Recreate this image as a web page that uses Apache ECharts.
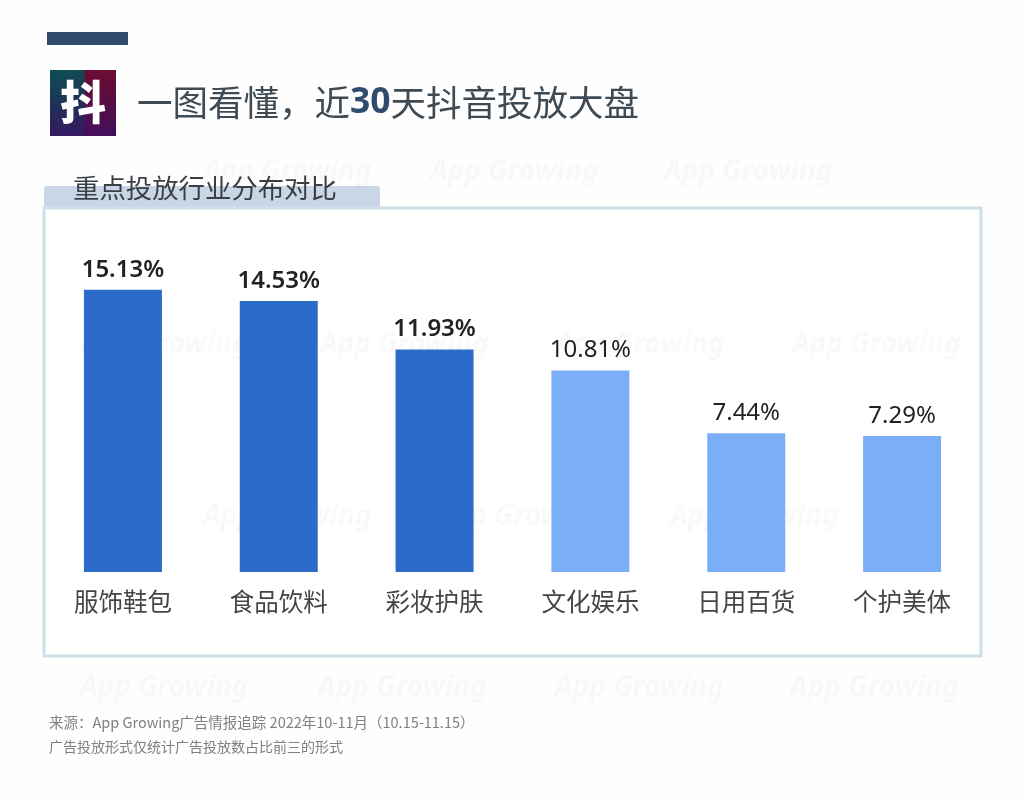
<!DOCTYPE html>
<html><head><meta charset="utf-8">
<style>html,body{margin:0;padding:0;background:#fefefe}#c{width:1024px;height:800px}</style>
<script src="https://cdn.jsdelivr.net/npm/echarts@6/dist/echarts.min.js"></script>
</head><body><div id="c"></div>
<script>
const categories = ['服饰鞋包','食品饮料','彩妆护肤','文化娱乐','日用百货','个护美体'];
const shares = [15.13,14.53,11.93,10.81,7.44,7.29];
const highlightCount = 3;
const titleHead = '一图看懂，近';
const titleNum = '30';
const titleTail = '天抖音投放大盘';
const subTitle = '重点投放行业分布对比';
const notes = ['来源：App Growing广告情报追踪 2022年10-11月（10.15-11.15）','广告投放形式仅统计广告投放数占比前三的形式'];
const watermark = 'App Growing';
const cjk = '"Noto Sans CJK SC","Noto Sans",sans-serif';
const latin = '"Noto Sans","Noto Sans CJK SC",sans-serif';

const wmSpots = [[203,172],[430,172],[664,172],[80,345],[320,345],[556,345],[792,345],[203,517],[436,517],[670,517],[80,688],[318,688],[555,688],[790,688]];
const wm = wmSpots.map(p=>({type:'text',x:p[0],y:p[1],z:1,silent:true,style:{text:watermark,font:'italic bold 28px '+latin,fill:'rgba(40,50,70,0.028)',textVerticalAlign:'middle'}}));

const chart = echarts.init(document.getElementById('c'),null,{renderer:'canvas'});
const G = echarts.graphic.LinearGradient;
chart.setOption({
  animation:false,
  backgroundColor:'#fefefe',
  grid:{left:45,right:44,top:199,height:373},
  xAxis:{type:'category',data:categories,axisLine:{show:false},axisTick:{show:false},
    axisLabel:{fontFamily:cjk,fontSize:24.5,color:'#454545',margin:17,interval:0}},
  yAxis:{type:'value',min:0,max:20,show:false,splitLine:{show:false}},
  series:[{type:'bar',barWidth:78,z:5,
    data:shares.map((v,i)=>({value:v,
      itemStyle:{color:i<highlightCount?'#2d6bca':'#7aaef7'},
      label:{fontWeight:i<highlightCount?600:400}})),
    label:{show:true,position:'top',distance:8,fontFamily:latin,fontSize:24,color:'#222',
      formatter:p=>p.value.toFixed(2)+'%'}}],
  graphic:[
    {type:'rect',z:0,shape:{x:47,y:32,width:81,height:13},style:{fill:'#2f4c6e'}},
    {type:'rect',z:0,shape:{x:50,y:70,width:66,height:66},style:{fill:new G(0,0,1,0,[{offset:0,color:'#0d4f52'},{offset:0.5,color:'#124a52'},{offset:0.55,color:'#6e0d32'},{offset:1,color:'#6e0d32'}])}},
    {type:'rect',z:0,shape:{x:50,y:70,width:66,height:66},style:{fill:new G(0,0,0,1,[{offset:0,color:'rgba(50,10,90,0)'},{offset:1,color:'rgba(60,15,100,0.85)'}])}},
    {type:'text',z:2,x:83,y:102,style:{text:'抖',font:'900 46px '+cjk,fill:'#fff',textAlign:'center',textVerticalAlign:'middle'}},
    {type:'text',z:2,x:137,y:103,style:{
      text:'{a|'+titleHead+'}{b|'+titleNum+'}{a|'+titleTail+'}',
      textVerticalAlign:'middle',
      rich:{a:{fontFamily:cjk,fontSize:35.5,fill:'#3e4a54',color:'#3e4a54'},
            b:{fontFamily:latin,fontWeight:'bold',fontSize:35.5,fill:'#2f4c6e',color:'#2f4c6e'}}}},
    {type:'rect',z:0,shape:{x:44,y:186,width:336,height:23,r:[3,3,0,0]},style:{fill:'#c8d6e5'}},
    {type:'rect',z:0,shape:{x:44,y:208,width:937,height:448},style:{fill:'#ffffff',stroke:'#cfdfe8',lineWidth:3}},
    {type:'text',z:2,x:73,y:188,style:{text:subTitle,font:'400 26.4px '+cjk,fill:'#3a3f45',textVerticalAlign:'middle'}},
    {type:'text',z:2,x:49,y:722,style:{text:notes[0],font:'400 14.5px '+cjk,fill:'#808080',textVerticalAlign:'middle'}},
    {type:'text',z:2,x:49,y:747,style:{text:notes[1],font:'400 14px '+cjk,fill:'#808080',textVerticalAlign:'middle'}},
    ...wm
  ]
});
</script></body></html>
